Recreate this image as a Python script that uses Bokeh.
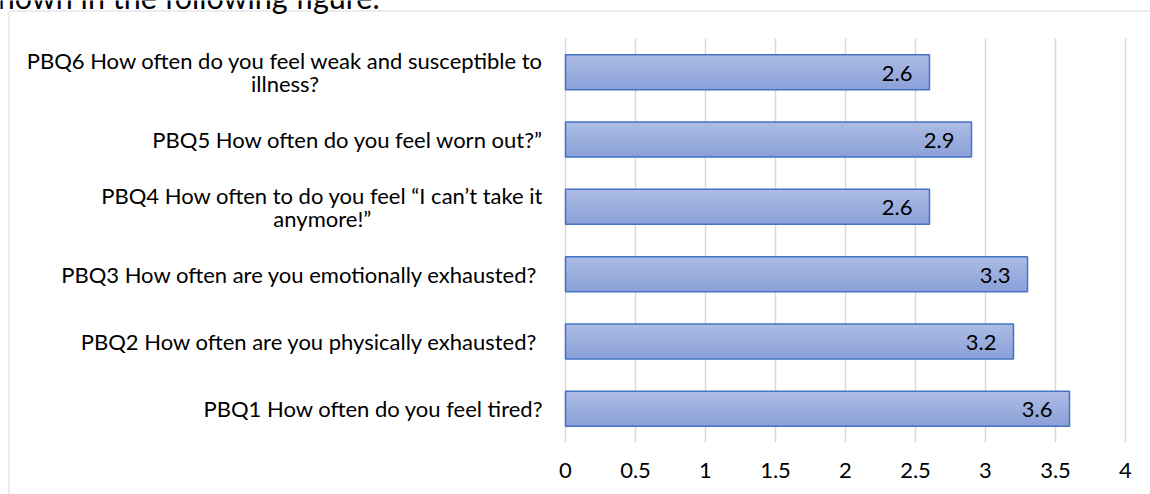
from bokeh.plotting import figure
from bokeh.models import Range1d
from bokeh.core.properties import value
from bokeh.embed import file_html
from bokeh.resources import INLINE

# Survey items (bottom to top) and their mean scores
questions = [
    "PBQ1 How often do you feel tired?",
    "PBQ2 How often are you physically exhausted? ",
    "PBQ3 How often are you emotionally exhausted? ",
    "PBQ4 How often to do you feel \u201cI can\u2019t take it\nanymore!\u201d",
    "PBQ5 How often do you feel worn out?\u201d",
    "PBQ6 How often do you feel weak and susceptible to\nillness?",
]
scores = [3.6, 3.2, 3.3, 2.6, 2.9, 2.6]
score_labels = ["3.6", "3.2", "3.3", "2.6", "2.9", "2.6"]
tick_values = [0, 0.5, 1, 1.5, 2, 2.5, 3, 3.5, 4]
tick_labels = ["0", "0.5", "1", "1.5", "2", "2.5", "3", "3.5", "4"]
caption = "shown in the following figure."

# Page geometry in pixels
W, H = 1150, 494
X0 = 565          # pixel column of value 0
UNIT = 140        # pixels per score unit
TOP, BOTTOM = 38, 442
SLOT = (BOTTOM - TOP) / len(questions)

FONT = value("Lato")
TEXT = "#000000"
SIZE = "22px"


def xd(px):
    return (px - X0) / UNIT


def yd(py):
    return (BOTTOM - py) / SLOT


p = figure(width=W, height=H, output_backend="svg", toolbar_location=None,
           x_range=Range1d(xd(0), xd(W)), y_range=Range1d(yd(H), yd(0)),
           x_axis_location=None, y_axis_location=None, min_border=0,
           outline_line_color=None)
p.grid.visible = False

centers = [i + 0.5 for i in range(len(questions))]

# chart frame (top and left edges)
p.line(x=[xd(8.5), xd(8.5), xd(W + 5)], y=[yd(H + 5), yd(10.5), yd(10.5)],
       line_color="#d9d9d9", line_width=1)

# vertical gridlines
p.segment(x0=tick_values, y0=0, x1=tick_values, y1=len(questions),
          line_color="#d9d9d9", line_width=1.5)

# bars with a soft top-to-bottom gradient: each band runs from its own top
# edge down to the bar bottom, so later bands paint over earlier ones
bar_h = 0.52
steps = 12
top_rgb = (0xAB, 0xBB, 0xE4)
bot_rgb = (0x8B, 0xA1, 0xD8)
for k in range(steps):
    t = k / (steps - 1)
    rgb = tuple(round(a + (b - a) * t) for a, b in zip(top_rgb, bot_rgb))
    band_top = bar_h / 2 - k * bar_h / steps
    p.hbar(y=[c + (band_top - bar_h / 2) / 2 for c in centers], left=0,
           right=scores, height=band_top + bar_h / 2,
           fill_color="#%02x%02x%02x" % rgb, line_color=None)
p.hbar(y=centers, left=0, right=scores, height=bar_h, fill_color=None,
       line_color="#4472c4", line_width=1.5)

# value labels inside bar ends
p.text(x=scores, y=centers, text=score_labels, x_offset=-17, y_offset=1,
       text_align="right", text_baseline="middle", text_font=FONT,
       text_font_size=SIZE, text_color=TEXT)

# category labels
p.text(x=0, y=centers, text=questions, x_offset=-22, anchor="center_right",
       text_align="center", text_baseline="middle", text_font=FONT,
       text_font_size=SIZE, text_color=TEXT, text_line_height=0.86)

# value axis tick labels
p.text(x=tick_values, y=yd(470), text=tick_labels, text_align="center",
       text_baseline="middle", text_font=FONT, text_font_size=SIZE,
       text_color=TEXT)

# preceding document line, cut off at the top edge
p.text(x=xd(-16), y=yd(-4), text=[caption], text_align="left",
       text_baseline="alphabetic", text_font=FONT, text_font_size="30.5px",
       text_color="#000000")

open("out.html", "w").write(file_html(p, INLINE))
